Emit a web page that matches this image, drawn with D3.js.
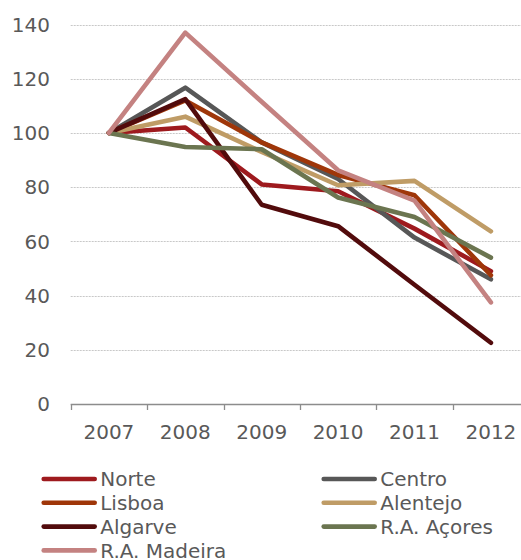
<!DOCTYPE html>
<html lang="pt">
<head>
<meta charset="UTF-8">
<title>Índice regional 2007-2012</title>
<script src="https://d3js.org/d3.v7.min.js"></script>
<style>
  body { margin: 0; background: #fff; }
  svg { display: block; font-family: "DejaVu Sans", Verdana, sans-serif; }
  .grid line { stroke: #c8c8c8; stroke-width: 1; stroke-dasharray: 2,1; }
  .tick-label { fill: #595959; font-size: 20px; }
  .legend text { fill: #595959; font-size: 20px; }
</style>
</head>
<body>
<div id="chart"></div>
<script>
// data
const years = ["2007", "2008", "2009", "2010", "2011", "2012"];
const regions = ["Norte", "Centro", "Lisboa", "Alentejo", "Algarve", "R.A. Açores", "R.A. Madeira"];
const norte    = [100, 102, 81, 78.5, 64.7, 49];
const centro   = [100, 116.7, 96.5, 83, 61.4, 46];
const lisboa   = [100, 112, 96.5, 84.5, 77, 47.5];
const alentejo = [100, 106, 93, 80.7, 82.3, 63.7];
const algarve  = [100, 112.5, 73.5, 65.6, 44, 22.6];
const acores   = [100, 94.8, 94, 76.2, 69, 54];
const madeira  = [100, 137, 111.5, 86.2, 75, 37.5];
const yTicks = [0, 20, 40, 60, 80, 100, 120, 140];

const seriesValues = [norte, centro, lisboa, alentejo, algarve, acores, madeira];
const colors = ["#9e1a1e", "#575757", "#9f3609", "#bf9c66", "#520b0c", "#6b7550", "#c48281"];

const width = 521, height = 560;
const svg = d3.select("#chart").append("svg")
  .attr("width", width).attr("height", height);

const x = d3.scaleBand().domain(years).range([70.7, 529.1]).paddingInner(0).paddingOuter(0);
const y = d3.scaleLinear().domain([0, 140]).range([404, 24.5]);

// gridlines
svg.append("g").attr("class", "grid")
  .selectAll("line")
  .data(yTicks.filter(d => d > 0))
  .join("line")
  .attr("x1", 70.7).attr("x2", width)
  .attr("y1", d => Math.round(y(d)) + 0.5)
  .attr("y2", d => Math.round(y(d)) + 0.5);

// y labels
svg.append("g")
  .selectAll("text")
  .data(yTicks)
  .join("text")
  .attr("class", "tick-label")
  .attr("x", 50)
  .attr("y", d => y(d))
  .attr("dy", "0.36em")
  .attr("text-anchor", "end")
  .text(d => d);

// x axis line + ticks at category boundaries
const xAxis = svg.append("g");
xAxis.append("line")
  .attr("x1", 70.7).attr("x2", width)
  .attr("y1", 404.5).attr("y2", 404.5)
  .attr("stroke", "#8c8c8c").attr("stroke-width", 1.3);
xAxis.selectAll("line.tk")
  .data(years)
  .join("line")
  .attr("class", "tk")
  .attr("x1", d => Math.round(x(d)) + 0.5)
  .attr("x2", d => Math.round(x(d)) + 0.5)
  .attr("y1", 404).attr("y2", 410)
  .attr("stroke", "#8c8c8c").attr("stroke-width", 1.3);
xAxis.selectAll("text")
  .data(years)
  .join("text")
  .attr("class", "tick-label")
  .attr("x", d => x(d) + x.bandwidth() / 2)
  .attr("y", 438.5)
  .attr("text-anchor", "middle")
  .text(d => d);

// lines
const line = d3.line()
  .x((d, i) => x(years[i]) + x.bandwidth() / 2)
  .y(d => y(d));

svg.append("g")
  .selectAll("path")
  .data(seriesValues)
  .join("path")
  .attr("d", line)
  .attr("fill", "none")
  .attr("stroke", (d, i) => colors[i])
  .attr("stroke-width", 4.6)
  .attr("stroke-linejoin", "round")
  .attr("stroke-linecap", "round");

// legend, two columns
const legend = svg.append("g").attr("class", "legend");
const legendItems = legend.selectAll("g")
  .data(regions)
  .join("g")
  .attr("transform", (d, i) => `translate(${i % 2 === 0 ? 41.7 : 321.7},${479 + Math.floor(i / 2) * 23.8})`);
legendItems.append("line")
  .attr("x1", 2).attr("x2", 53)
  .attr("y1", 0).attr("y2", 0)
  .attr("stroke", (d, i) => colors[i])
  .attr("stroke-width", 4.6)
  .attr("stroke-linecap", "round");
legendItems.append("text")
  .attr("x", 58.5)
  .attr("y", 0)
  .attr("dy", "0.36em")
  .text(d => d);
</script>
</body>
</html>
